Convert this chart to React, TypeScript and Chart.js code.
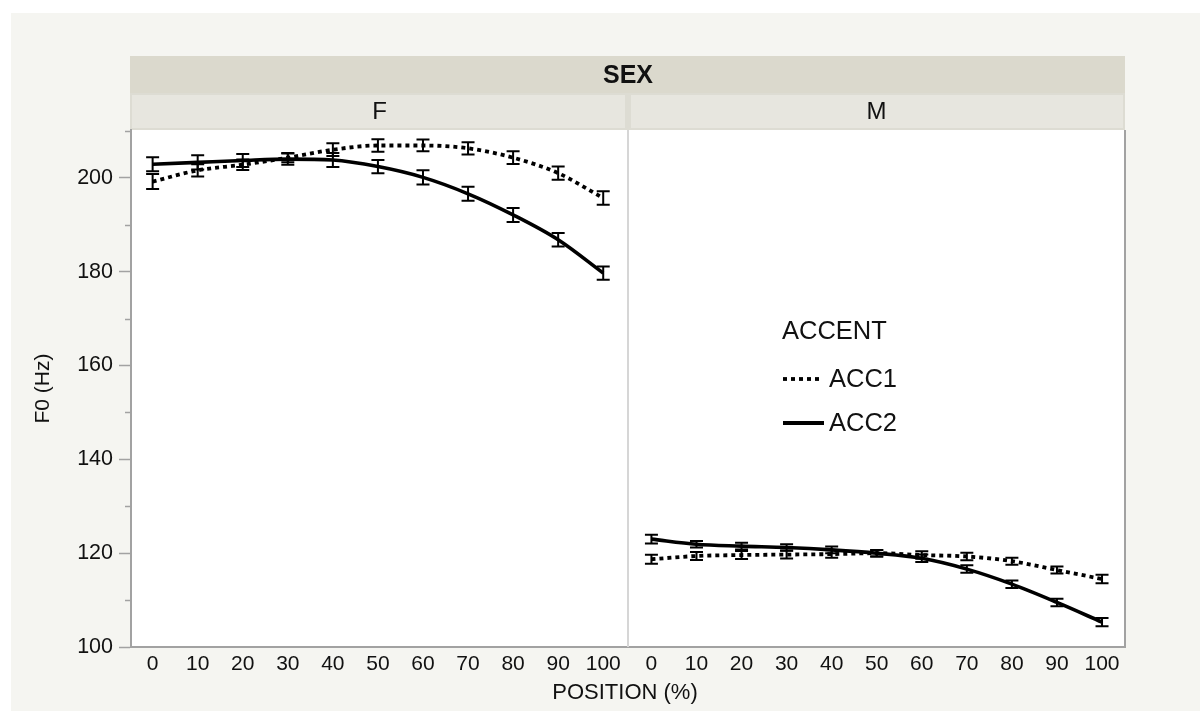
import React, { useEffect, useRef } from 'react';
import { Chart, registerables } from 'chart.js';

Chart.register(...registerables);

// ---- data ----
const POSITIONS = [0, 10, 20, 30, 40, 50, 60, 70, 80, 90, 100];
const PANELS = ['F', 'M'];
const SERIES = ['ACC1', 'ACC2'];

const F_ACC1 = [199.2, 201.6, 202.8, 204.3, 206.0, 206.9, 206.9, 206.3, 204.3, 201.0, 195.7];
const F_ACC2 = [202.9, 203.3, 203.7, 204.0, 203.8, 202.4, 200.1, 196.6, 192.1, 186.8, 179.7];
const M_ACC1 = [118.7, 119.4, 119.6, 119.7, 119.8, 120.0, 119.6, 119.3, 118.3, 116.4, 114.5];
const M_ACC2 = [123.0, 121.9, 121.5, 121.2, 120.7, 120.0, 118.9, 116.6, 113.4, 109.5, 105.3];

const F_ACC1_ERR = [1.6, 1.3, 1.1, 1.0, 1.35, 1.35, 1.25, 1.3, 1.35, 1.4, 1.45];
const F_ACC2_ERR = [1.5, 1.5, 1.4, 1.2, 1.5, 1.4, 1.5, 1.5, 1.5, 1.45, 1.4];
const M_ACC1_ERR = [0.95, 0.85, 0.85, 0.85, 0.8, 0.7, 0.8, 0.8, 0.75, 0.75, 0.9];
const M_ACC2_ERR = [0.95, 0.7, 0.7, 0.7, 0.7, 0.7, 0.8, 0.8, 0.8, 0.8, 0.9];

const Y_MIN = 100;
const Y_MAX = 210.2;
const Y_STEP = 10;
const Y_LABEL_STEP = 20;

const FONT = '"Liberation Sans", Arial, Helvetica, sans-serif';
const AXIS_GREY = '#a2a2a2';
const TEXT = '#111111';

export default function App() {
  const ref = useRef<HTMLCanvasElement>(null);

  useEffect(() => {
    const canvas = ref.current;
    if (!canvas) return;

    const pts = (vals: number[]) => POSITIONS.map((p, i) => ({ x: p, y: vals[i] }));
    const ds = (label: string, vals: number[], errs: number[], axis: string, dotted: boolean) => ({
      label,
      data: pts(vals),
      errors: errs,
      xAxisID: axis,
      yAxisID: 'y',
      borderColor: '#000000',
      backgroundColor: '#000000',
      borderWidth: dotted ? 3.8 : 3.6,
      borderDash: dotted ? [4, 4] : [],
      borderCapStyle: 'butt',
      pointRadius: 0,
      pointHoverRadius: 0,
      cubicInterpolationMode: 'monotone',
      fill: false,
    });

    const deco = {
      id: 'deco',
      beforeDraw(chart: any) {
        const { ctx, chartArea: a } = chart;
        const mid = chart.scales.xF.right;
        ctx.save();
        ctx.fillStyle = '#ffffff';
        ctx.fillRect(0, 0, chart.width, chart.height);
        ctx.fillStyle = '#f5f5f1';
        ctx.fillRect(11, 13, chart.width - 11, chart.height - 13);
        // SEX band
        ctx.fillStyle = '#dbd9cd';
        ctx.fillRect(a.left - 1, a.top - 74, a.right - a.left + 1, 37);
        // F / M cells
        ctx.fillStyle = '#dddcd3';
        ctx.fillRect(a.left - 1, a.top - 37, a.right - a.left + 1, 37);
        ctx.fillStyle = '#e7e6df';
        ctx.fillRect(a.left + 1, a.top - 35, mid - a.left - 4, 33);
        ctx.fillRect(mid + 3, a.top - 35, a.right - mid - 5, 33);
        // plot area
        ctx.fillStyle = '#ffffff';
        ctx.fillRect(a.left, a.top, a.right - a.left, a.bottom - a.top);
        ctx.restore();
      },
      beforeDatasetsDraw(chart: any) {
        const { ctx, chartArea: a } = chart;
        const mid = chart.scales.xF.right;
        ctx.save();
        ctx.strokeStyle = '#d6d6d6';
        ctx.lineWidth = 2;
        ctx.beginPath();
        ctx.moveTo(mid, a.top);
        ctx.lineTo(mid, a.bottom);
        ctx.stroke();
        ctx.strokeStyle = AXIS_GREY;
        ctx.beginPath();
        ctx.moveTo(a.right, a.top);
        ctx.lineTo(a.right, a.bottom + 1);
        ctx.stroke();
        ctx.restore();
      },
      afterDatasetsDraw(chart: any) {
        const { ctx } = chart;
        const ys = chart.scales.y;
        ctx.save();
        ctx.strokeStyle = '#000000';
        ctx.lineWidth = 2;
        ctx.setLineDash([]);
        chart.data.datasets.forEach((d: any) => {
          const xs = chart.scales[d.xAxisID];
          d.data.forEach((p: any, j: number) => {
            const e = d.errors[j];
            const x = xs.getPixelForValue(p.x);
            const y1 = ys.getPixelForValue(p.y + e);
            const y2 = ys.getPixelForValue(p.y - e);
            ctx.beginPath();
            ctx.moveTo(x, y1);
            ctx.lineTo(x, y2);
            ctx.moveTo(x - 6.5, y1);
            ctx.lineTo(x + 6.5, y1);
            ctx.moveTo(x - 6.5, y2);
            ctx.lineTo(x + 6.5, y2);
            ctx.stroke();
          });
        });
        ctx.restore();
      },
      afterDraw(chart: any) {
        const { ctx, chartArea: a } = chart;
        const ys = chart.scales.y;
        const xF = chart.scales.xF;
        const xM = chart.scales.xM;
        ctx.save();
        // minor y ticks
        ctx.strokeStyle = AXIS_GREY;
        ctx.lineWidth = 1.5;
        ys.ticks.forEach((t: any) => {
          if (Math.round(t.value) % Y_LABEL_STEP !== 0) {
            const y = Math.round(ys.getPixelForValue(t.value)) + 0.5;
            ctx.beginPath();
            ctx.moveTo(a.left - 6, y);
            ctx.lineTo(a.left - 1, y);
            ctx.stroke();
          }
        });
        ctx.fillStyle = TEXT;
        ctx.textAlign = 'center';
        ctx.textBaseline = 'middle';
        ctx.font = `bold 25px ${FONT}`;
        ctx.fillText('SEX', (a.left + a.right) / 2, a.top - 54);
        ctx.font = `24px ${FONT}`;
        ctx.fillText(PANELS[0], (xF.left + xF.right) / 2, a.top - 18);
        ctx.fillText(PANELS[1], (xM.left + xM.right) / 2, a.top - 18);
        // axis titles
        ctx.font = `22px ${FONT}`;
        ctx.fillText('POSITION (%)', (a.left + a.right) / 2 - 3, 693);
        ctx.save();
        ctx.translate(43, (a.top + a.bottom) / 2);
        ctx.rotate(-Math.PI / 2);
        ctx.font = `21px ${FONT}`;
        ctx.fillText('F0 (Hz)', 0, 0);
        ctx.restore();
        // legend
        const lx = 782;
        ctx.textAlign = 'left';
        ctx.font = `25.5px ${FONT}`;
        ctx.fillText('ACCENT', lx, 332);
        ctx.fillText(SERIES[0], lx + 47, 380);
        ctx.fillText(SERIES[1], lx + 47, 424);
        ctx.strokeStyle = '#000000';
        ctx.lineCap = 'butt';
        ctx.lineWidth = 3.8;
        ctx.setLineDash([4, 4]);
        ctx.beginPath();
        ctx.moveTo(lx + 1, 379);
        ctx.lineTo(lx + 39, 379);
        ctx.stroke();
        ctx.setLineDash([]);
        ctx.lineWidth = 4.2;
        ctx.beginPath();
        ctx.moveTo(lx + 1, 423);
        ctx.lineTo(lx + 42, 423);
        ctx.stroke();
        ctx.restore();
      },
    };

    const xAxis = (min: number, max: number) => ({
      type: 'linear',
      position: 'bottom',
      stack: 'pos',
      stackWeight: 1,
      min,
      max,
      afterFit(scale: any) {
        scale.height = 40;
      },
      ticks: {
        stepSize: 10,
        includeBounds: false,
        autoSkip: false,
        maxRotation: 0,
        padding: 5,
        color: TEXT,
        font: { family: FONT, size: 21 },
      },
      grid: { drawOnChartArea: false, drawTicks: false, display: false },
      border: { display: true, color: AXIS_GREY, width: 2 },
    });

    const chart = new Chart(canvas, {
      type: 'line',
      data: {
        datasets: [
          ds('F ' + SERIES[0], F_ACC1, F_ACC1_ERR, 'xF', true),
          ds('F ' + SERIES[1], F_ACC2, F_ACC2_ERR, 'xF', false),
          ds('M ' + SERIES[0], M_ACC1, M_ACC1_ERR, 'xM', true),
          ds('M ' + SERIES[1], M_ACC2, M_ACC2_ERR, 'xM', false),
        ] as any,
      },
      options: {
        animation: false,
        responsive: false,
        devicePixelRatio: 1,
        layout: { padding: { top: 130, left: 60, right: 75, bottom: 24 } },
        plugins: { legend: { display: false }, tooltip: { enabled: false } },
        events: [],
        scales: {
          xF: xAxis(-4.8, 105.5) as any,
          xM: xAxis(-5.2, 105.1) as any,
          y: {
            type: 'linear',
            position: 'left',
            min: Y_MIN,
            max: Y_MAX,
            afterFit(scale: any) {
              scale.width = 71;
            },
            ticks: {
              stepSize: Y_STEP,
              includeBounds: false,
              padding: 6,
              color: TEXT,
              font: { family: FONT, size: 21.5 },
              callback: (v: any) => (Math.round(v) % Y_LABEL_STEP === 0 ? String(v) : ''),
            },
            grid: {
              drawOnChartArea: false,
              tickLength: 12,
              tickWidth: 1.5,
              tickColor: (c: any) =>
                c.tick && Math.round(c.tick.value) % Y_LABEL_STEP === 0 ? AXIS_GREY : 'rgba(0,0,0,0)',
            },
            border: { display: true, color: AXIS_GREY, width: 2 },
          },
        },
      },
      plugins: [deco],
    } as any);

    return () => chart.destroy();
  }, []);

  return (
    <div style={{ position: 'absolute', left: 0, top: 0, width: 1200, height: 711 }}>
      <canvas ref={ref} width={1200} height={711} style={{ display: 'block' }} />
    </div>
  );
}
